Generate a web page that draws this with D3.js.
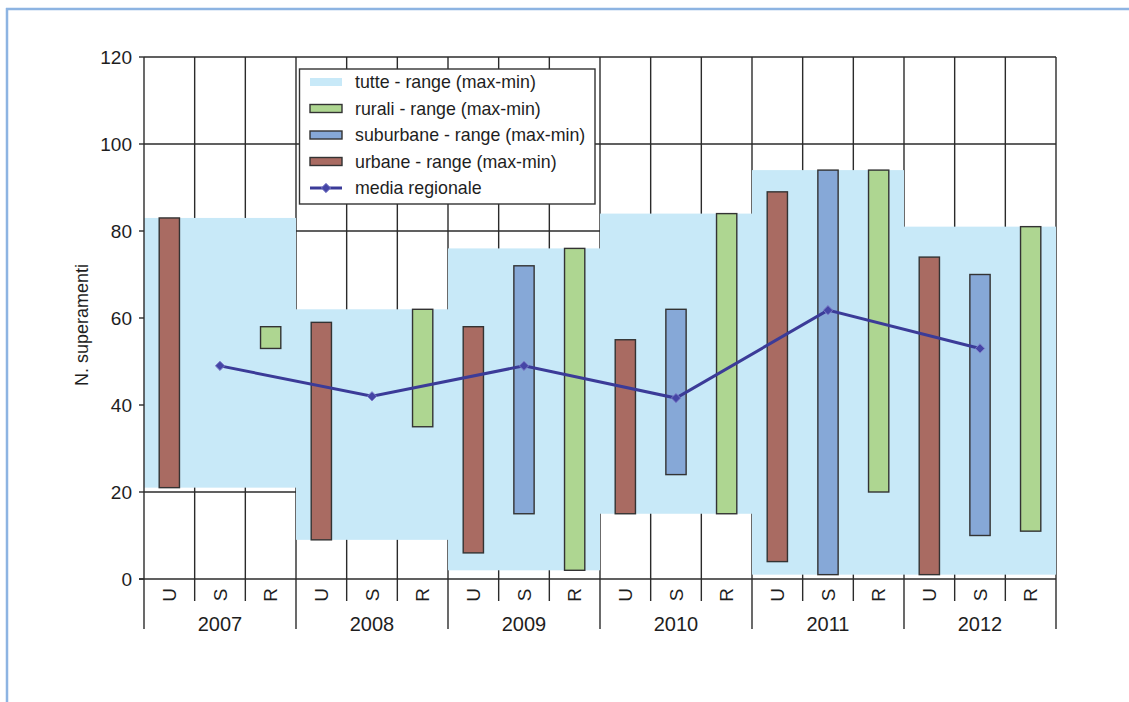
<!DOCTYPE html>
<html>
<head>
<meta charset="utf-8">
<script src="https://cdn.jsdelivr.net/npm/d3@7"></script>
<style>
html,body{margin:0;padding:0;background:#fff;}
svg{display:block;font-family:"Liberation Sans",Arial,Helvetica,sans-serif;}
</style>
</head>
<body>
<svg id="chart" width="1129" height="702"></svg>
<script>
// ---- data ----
const years = ["2007","2008","2009","2010","2011","2012"];
const types = ["U","S","R"];
const yTicks = [0,20,40,60,80,100,120];
const tutteMin = [21,9,2,15,1,1];
const tutteMax = [83,62,76,84,94,81];
const urbaneMin = [21,9,6,15,4,1];
const urbaneMax = [83,59,58,55,89,74];
const suburbaneMin = [null,null,15,24,1,10];
const suburbaneMax = [null,null,72,62,94,70];
const ruraliMin = [53,35,2,15,20,11];
const ruraliMax = [58,62,76,84,94,81];
const media = [49,42,49,41.6,61.8,53];
const legendLabels = ["tutte - range (max-min)","rurali - range (max-min)","suburbane - range (max-min)","urbane - range (max-min)","media regionale"];

const colors = {tutte:"#c8e9f8", rurali:"#aed691", suburbane:"#86a8d7", urbane:"#a96b62", media:"#3b3b98"};

const svg = d3.select("#chart");
const L = 144, R = 1056, T = 57, B = 579;

const cats = [];
years.forEach(y => types.forEach(t => cats.push(y + "|" + t)));
const x = d3.scaleBand().domain(cats).range([L, R]).padding(0);
const xYear = d3.scaleBand().domain(years).range([L, R]).padding(0);
const y = d3.scaleLinear().domain([0,120]).range([B, T]);
const gridColor = "#2b2b2b";
const textColor = "#1e1e1e";

// frame
svg.append("line").attr("x1",6).attr("x2",1129).attr("y1",9).attr("y2",9)
  .attr("stroke","#8db4e2").attr("stroke-width",2.5);
svg.append("line").attr("x1",7).attr("x2",7).attr("y1",8).attr("y2",702)
  .attr("stroke","#8db4e2").attr("stroke-width",2.5);

// grid
const grid = svg.append("g");
yTicks.filter(v => v > 0).forEach(v => {
  grid.append("line").attr("x1",L).attr("x2",R).attr("y1",y(v)).attr("y2",y(v))
    .attr("stroke",gridColor).attr("stroke-width",1.4);
});
cats.forEach((c,i) => {
  if (i === 0) return;
  grid.append("line").attr("x1",x(c)).attr("x2",x(c)).attr("y1",T).attr("y2",B)
    .attr("stroke",gridColor).attr("stroke-width",1.4);
});
grid.append("line").attr("x1",R).attr("x2",R).attr("y1",T).attr("y2",B)
  .attr("stroke",gridColor).attr("stroke-width",1.4);

// tutte bands
svg.append("g").selectAll("rect").data(years).join("rect")
  .attr("x", d => xYear(d))
  .attr("width", xYear.bandwidth())
  .attr("y", (d,i) => y(tutteMax[i]))
  .attr("height", (d,i) => y(tutteMin[i]) - y(tutteMax[i]))
  .attr("fill", colors.tutte);

// bars
const bw = x.bandwidth() * 0.4;
function drawBars(type, mins, maxs, color) {
  const data = years.map((yr,i) => ({yr, min: mins[i], max: maxs[i]})).filter(d => d.min != null);
  svg.append("g").selectAll("rect").data(data).join("rect")
    .attr("x", d => x(d.yr + "|" + type) + (x.bandwidth() - bw) / 2)
    .attr("width", bw)
    .attr("y", d => y(d.max))
    .attr("height", d => y(d.min) - y(d.max))
    .attr("fill", color)
    .attr("stroke", "#333")
    .attr("stroke-width", 1.4);
}
drawBars("U", urbaneMin, urbaneMax, colors.urbane);
drawBars("S", suburbaneMin, suburbaneMax, colors.suburbane);
drawBars("R", ruraliMin, ruraliMax, colors.rurali);

// media line
const mx = (yr) => x(yr + "|S") + x.bandwidth() / 2;
const line = d3.line().x((d,i) => mx(years[i])).y(d => y(d));
svg.append("path").datum(media).attr("d", line)
  .attr("fill","none").attr("stroke",colors.media).attr("stroke-width",3);
const diamond = d3.symbol().type(d3.symbolDiamond2).size(55);
svg.append("g").selectAll("path").data(media).join("path")
  .attr("d", diamond)
  .attr("transform", (d,i) => `translate(${mx(years[i])},${y(d)})`)
  .attr("fill","#4545a6").attr("stroke","#7c7cc8").attr("stroke-width",1);

// axes
const ax = svg.append("g");
ax.append("line").attr("x1",L).attr("x2",L).attr("y1",T).attr("y2",B)
  .attr("stroke",gridColor).attr("stroke-width",1.4);
ax.append("line").attr("x1",L-5).attr("x2",R).attr("y1",B).attr("y2",B)
  .attr("stroke",gridColor).attr("stroke-width",1.4);
yTicks.forEach(v => {
  ax.append("line").attr("x1",L-5).attr("x2",L).attr("y1",y(v)).attr("y2",y(v))
    .attr("stroke",gridColor).attr("stroke-width",1.4);
  ax.append("text").attr("x",132).attr("y",y(v)).attr("text-anchor","end")
    .attr("dominant-baseline","central").attr("font-size",19).attr("fill",textColor).text(v);
});
svg.append("text").attr("transform","translate(82,325) rotate(-90)")
  .attr("text-anchor","middle").attr("dominant-baseline","central")
  .attr("font-size",18).attr("fill",textColor).text("N. superamenti");

// x category ticks
cats.forEach((c,i) => {
  const long = i % 3 === 0;
  ax.append("line").attr("x1",x(c)).attr("x2",x(c)).attr("y1",B).attr("y2", long ? 629 : 601)
    .attr("stroke",gridColor).attr("stroke-width",1.4);
  ax.append("text")
    .attr("transform", `translate(${x(c) + x.bandwidth()/2},595) rotate(-90)`)
    .attr("text-anchor","middle").attr("dominant-baseline","central")
    .attr("font-size",19).attr("fill",textColor).text(c.split("|")[1]);
});
ax.append("line").attr("x1",R).attr("x2",R).attr("y1",B).attr("y2",629)
  .attr("stroke",gridColor).attr("stroke-width",1.4);
years.forEach(yr => {
  ax.append("text").attr("x", xYear(yr) + xYear.bandwidth()/2).attr("y",631)
    .attr("text-anchor","middle").attr("font-size",20).attr("fill",textColor).text(yr);
});

// legend
const lg = svg.append("g");
lg.append("rect").attr("x",299.5).attr("y",69).attr("width",295.5).attr("height",135)
  .attr("fill","#fff").attr("stroke","#333").attr("stroke-width",1.4);
const legendSw = [
  {type:"band", color:colors.tutte},
  {type:"bar", color:colors.rurali},
  {type:"bar", color:colors.suburbane},
  {type:"bar", color:colors.urbane},
  {type:"line", color:colors.media}
];
legendLabels.forEach((lab,i) => {
  const cy = 82 + i * 26.5;
  const s = legendSw[i];
  if (s.type === "band") {
    lg.append("rect").attr("x",310).attr("y",cy-4).attr("width",32).attr("height",8).attr("fill",s.color);
  } else if (s.type === "bar") {
    lg.append("rect").attr("x",310).attr("y",cy-4).attr("width",32).attr("height",8)
      .attr("fill",s.color).attr("stroke","#333").attr("stroke-width",1.4);
  } else {
    lg.append("line").attr("x1",310).attr("x2",342).attr("y1",cy).attr("y2",cy)
      .attr("stroke",s.color).attr("stroke-width",3);
    lg.append("path").attr("d",diamond).attr("transform",`translate(326,${cy})`)
      .attr("fill","#4545a6").attr("stroke","#7c7cc8").attr("stroke-width",1);
  }
  lg.append("text").attr("x",355).attr("y",cy).attr("dominant-baseline","central")
    .attr("font-size",17.8).attr("fill",textColor).text(lab);
});
</script>
</body>
</html>
